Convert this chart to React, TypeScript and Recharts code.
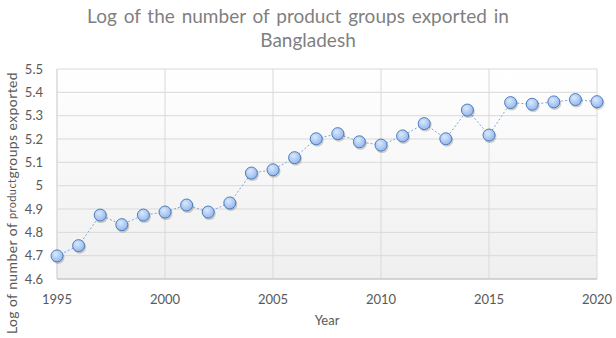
import React from "react";
import { LineChart, Line, XAxis, YAxis, CartesianGrid } from "recharts";

const years = [1995,1996,1997,1998,1999,2000,2001,2002,2003,2004,2005,2006,2007,2008,2009,2010,2011,2012,2013,2014,2015,2016,2017,2018,2019,2020];
const logProducts = [4.699,4.743,4.874,4.833,4.874,4.887,4.917,4.887,4.926,5.054,5.068,5.12,5.201,5.223,5.188,5.174,5.213,5.266,5.201,5.324,5.217,5.356,5.349,5.359,5.369,5.36];
const xTicks = [1995,2000,2005,2010,2015,2020];
const yTicks = [4.6,4.7,4.8,4.9,5,5.1,5.2,5.3,5.4,5.5];

const data = years.map((y, i) => ({ year: y, value: logProducts[i] }));

const FONT = "Lato, 'Open Sans', sans-serif";
const GREY = "#595959";

const Dot = (props: any) => {
  const { cx, cy } = props;
  if (cx == null || cy == null) return null;
  return (
    <g>
      <circle cx={cx + 1} cy={cy + 1.5} r={6.5} fill="rgba(0,0,0,0.18)" />
      <circle cx={cx} cy={cy} r={6} fill="url(#dotGrad)" stroke="#4a7ebb" strokeWidth={1} />
    </g>
  );
};

const YLabel = () => (
  <text
    x={11}
    y={203}
    transform="rotate(-90 11 203)"
    textAnchor="middle"
    dominantBaseline="central"
    fill={GREY}
    fontFamily={FONT}
    fontSize={14}
    letterSpacing={0.4}
  >
    Log of number of <tspan fontSize={11}>product</tspan>groups exported
  </text>
);

export default function App() {
  return (
    <div style={{ position: "absolute", left: 0, top: 0, width: 616, height: 338, background: "#fff", fontFamily: FONT }}>
      <div style={{ position: "absolute", left: -10, top: 4, width: 616, textAlign: "center", color: "#7f7f7f", fontSize: 19, lineHeight: "24px", wordSpacing: 2 }}>
        Log of the number of product groups exported in
      </div>
      <div style={{ position: "absolute", left: 0, top: 28, width: 616, textAlign: "center", color: "#7f7f7f", fontSize: 19, lineHeight: "24px" }}>
        Bangladesh
      </div>
      <LineChart width={616} height={338} data={data} margin={{ top: 69, right: 19, bottom: 0, left: 0 }}>
        <defs>
          <linearGradient id="bgGrad" x1="0" y1="0" x2="0" y2="1">
            <stop offset="0%" stopColor="#ffffff" />
            <stop offset="100%" stopColor="#efefef" />
          </linearGradient>
          <radialGradient id="dotGrad" cx="40%" cy="35%" r="70%">
            <stop offset="0%" stopColor="#dbe8fb" />
            <stop offset="100%" stopColor="#8fb4ee" />
          </radialGradient>
        </defs>
        <CartesianGrid stroke="#d9d9d9" fill="url(#bgGrad)" />
        <XAxis
          dataKey="year"
          type="number"
          domain={[1995, 2020]}
          ticks={xTicks}
          interval={0}
          tickLine={false}
          axisLine={{ stroke: "#bfbfbf" }}
          tick={{ fill: GREY, fontSize: 13, fontFamily: FONT }}
          tickMargin={10}
          label={{ value: "Year", position: "insideBottom", offset: 13, fill: GREY, fontSize: 13, fontFamily: FONT }}
          height={59}
        />
        <YAxis
          type="number"
          domain={[4.6, 5.5]}
          ticks={yTicks}
          interval={0}
          tickLine={false}
          axisLine={{ stroke: "#d9d9d9" }}
          tick={{ fill: GREY, fontSize: 13, fontFamily: FONT }}
          tickSize={0}
          tickMargin={14}
          width={57}
          label={<YLabel />}
        />
        <Line
          type="linear"
          dataKey="value"
          stroke="#7fa6df"
          strokeWidth={1}
          strokeDasharray="2 2"
          dot={<Dot />}
          activeDot={false}
          isAnimationActive={false}
        />
      </LineChart>
    </div>
  );
}
